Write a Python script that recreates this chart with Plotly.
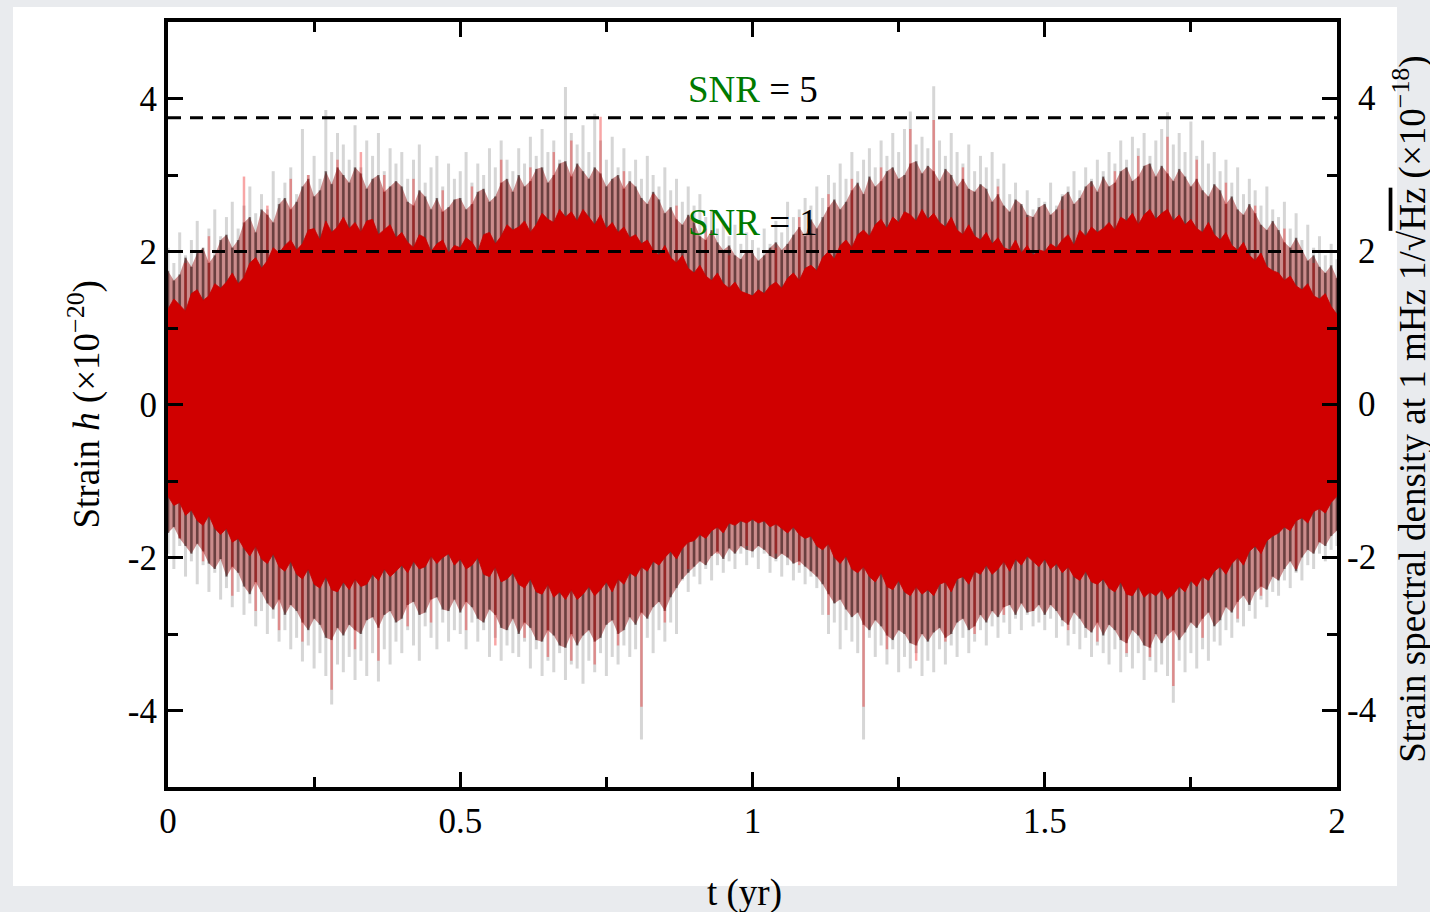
import plotly.graph_objects as go

# ---------------- data ----------------
# time grid (yr), step 0.01
t = [round(i * 0.01, 2) for i in range(201)]

# opaque red core envelope
core_hi = [1.25, 1.38, 1.30, 1.22, 1.45, 1.50, 1.36, 1.42, 1.58, 1.52,
           1.60, 1.72, 1.58, 1.66, 1.85, 1.92, 1.78, 1.88, 2.05, 1.98,
           2.08, 2.15, 2.02, 2.10, 2.28, 2.30, 2.15, 2.40, 2.25, 2.32,
           2.45, 2.30, 2.38, 2.25, 2.40, 2.42, 2.22, 2.28, 2.35, 2.18,
           2.25, 2.12, 2.05, 2.22, 2.18, 2.00, 2.10, 2.15, 1.98, 2.08,
           2.05, 2.18, 2.12, 2.00, 2.22, 2.25, 2.10, 2.20, 2.35, 2.28,
           2.32, 2.40, 2.25, 2.35, 2.50, 2.42, 2.38, 2.55, 2.45, 2.52,
           2.40, 2.55, 2.45, 2.35, 2.48, 2.30, 2.38, 2.25, 2.32, 2.18,
           2.22, 2.10, 2.15, 2.02, 1.95, 2.08, 1.92, 1.85, 1.95, 1.78,
           1.72, 1.82, 1.68, 1.62, 1.72, 1.58, 1.52, 1.60, 1.48, 1.45,
           1.42, 1.50, 1.45, 1.55, 1.60, 1.52, 1.65, 1.72, 1.62, 1.78,
           1.82, 1.75, 1.92, 2.00, 1.90, 2.08, 2.15, 2.05, 2.22, 2.28,
           2.20, 2.35, 2.42, 2.30, 2.45, 2.38, 2.52, 2.48, 2.40, 2.55,
           2.42, 2.50, 2.38, 2.32, 2.45, 2.28, 2.22, 2.35, 2.20, 2.15,
           2.25, 2.10, 2.18, 2.05, 2.02, 2.15, 1.98, 2.08, 1.95, 2.02,
           2.00, 2.10, 2.05, 2.15, 2.22, 2.08, 2.28, 2.20, 2.32, 2.25,
           2.30, 2.38, 2.28, 2.45, 2.40, 2.50, 2.35, 2.48, 2.55, 2.42,
           2.50, 2.55, 2.40, 2.48, 2.35, 2.42, 2.30, 2.25, 2.38, 2.22,
           2.15, 2.25, 2.08, 2.02, 2.12, 1.95, 1.88, 1.98, 1.80, 1.75,
           1.72, 1.62, 1.68, 1.55, 1.50, 1.58, 1.42, 1.38, 1.45, 1.28,
           1.18]
core_lo = [-1.20, -1.32, -1.28, -1.45, -1.38, -1.52, -1.58, -1.45, -1.62, -1.70,
           -1.62, -1.80, -1.75, -1.88, -1.98, -1.85, -2.02, -2.08, -1.95, -2.12,
           -2.18, -2.05, -2.22, -2.28, -2.15, -2.35, -2.40, -2.25, -2.42, -2.45,
           -2.32, -2.42, -2.28, -2.38, -2.35, -2.22, -2.30, -2.15, -2.25, -2.18,
           -2.10, -2.20, -2.05, -2.15, -2.12, -1.98, -2.08, -2.00, -1.95, -2.10,
           -2.02, -2.15, -2.10, -2.00, -2.22, -2.25, -2.12, -2.32, -2.28, -2.20,
           -2.35, -2.40, -2.28, -2.45, -2.48, -2.35, -2.52, -2.45, -2.55, -2.42,
           -2.55, -2.48, -2.38, -2.50, -2.42, -2.32, -2.45, -2.28, -2.35, -2.20,
           -2.25, -2.12, -2.18, -2.05, -2.10, -2.00, -1.92, -2.02, -1.88, -1.80,
           -1.78, -1.70, -1.75, -1.65, -1.60, -1.68, -1.55, -1.58, -1.52, -1.55,
           -1.50, -1.55, -1.52, -1.60, -1.56, -1.62, -1.68, -1.60, -1.70, -1.75,
           -1.72, -1.85, -1.90, -1.82, -2.00, -2.08, -1.98, -2.15, -2.20, -2.12,
           -2.25, -2.32, -2.20, -2.38, -2.42, -2.30, -2.45, -2.50, -2.38, -2.48,
           -2.42, -2.50, -2.35, -2.32, -2.45, -2.28, -2.25, -2.35, -2.18, -2.22,
           -2.10, -2.22, -2.15, -2.05, -2.18, -2.02, -2.10, -1.98, -2.05, -2.12,
           -2.02, -2.15, -2.08, -2.20, -2.12, -2.25, -2.30, -2.18, -2.32, -2.35,
           -2.28, -2.40, -2.45, -2.32, -2.48, -2.50, -2.38, -2.52, -2.45, -2.50,
           -2.42, -2.55, -2.48, -2.38, -2.45, -2.30, -2.38, -2.25, -2.30, -2.18,
           -2.12, -2.22, -2.08, -2.00, -2.10, -1.92, -1.85, -1.95, -1.78, -1.72,
           -1.68, -1.60, -1.65, -1.52, -1.48, -1.55, -1.40, -1.36, -1.42, -1.28,
           -1.20]

# dark (black overlap) envelope
dark_hi = [1.75, 1.62, 1.70, 1.92, 1.80, 1.98, 2.05, 1.85, 1.95, 2.15,
           2.22, 2.05, 2.15, 2.38, 2.45, 2.25, 2.55, 2.48, 2.38, 2.62,
           2.70, 2.55, 2.65, 2.85, 2.95, 2.72, 2.80, 3.05, 2.88, 3.10,
           3.00, 2.90, 3.10, 3.02, 2.82, 2.95, 3.00, 2.78, 2.85, 2.92,
           2.85, 2.65, 2.60, 2.80, 2.72, 2.55, 2.70, 2.52, 2.58, 2.68,
           2.70, 2.55, 2.62, 2.78, 2.82, 2.65, 2.72, 2.90, 2.95, 2.78,
           3.00, 2.85, 2.92, 3.08, 3.10, 2.90, 3.00, 3.15, 3.18, 2.98,
           3.15, 3.05, 2.95, 3.10, 3.02, 2.85, 2.95, 3.00, 2.82, 2.92,
           2.85, 2.70, 2.62, 2.78, 2.68, 2.50, 2.58, 2.42, 2.35, 2.48,
           2.38, 2.20, 2.15, 2.28, 2.12, 2.02, 2.08, 1.95, 1.90, 2.02,
           1.98, 1.88, 1.95, 2.05, 2.12, 2.02, 2.10, 2.22, 2.32, 2.20,
           2.42, 2.30, 2.45, 2.58, 2.68, 2.55, 2.65, 2.80, 2.90, 2.75,
           2.98, 2.85, 2.92, 3.05, 3.10, 2.95, 3.00, 3.15, 3.18, 3.02,
           3.12, 3.05, 2.92, 3.08, 3.00, 2.85, 2.95, 2.82, 2.78, 2.88,
           2.82, 2.65, 2.75, 2.60, 2.52, 2.68, 2.62, 2.48, 2.45, 2.58,
           2.62, 2.48, 2.55, 2.72, 2.78, 2.62, 2.70, 2.85, 2.92, 2.78,
           2.98, 2.85, 2.90, 3.05, 3.10, 2.92, 2.98, 3.12, 3.15, 2.98,
           3.12, 3.02, 2.92, 3.08, 2.98, 2.85, 2.95, 2.80, 2.72, 2.88,
           2.80, 2.62, 2.72, 2.55, 2.48, 2.62, 2.50, 2.35, 2.28, 2.40,
           2.28, 2.12, 2.05, 2.18, 2.02, 1.88, 1.95, 1.80, 1.72, 1.82,
           1.65]
dark_lo = [-1.68, -1.60, -1.75, -1.85, -1.95, -1.82, -1.92, -2.08, -2.15, -2.02,
           -2.25, -2.12, -2.20, -2.38, -2.48, -2.32, -2.45, -2.60, -2.68, -2.55,
           -2.75, -2.62, -2.70, -2.85, -2.95, -2.80, -2.88, -3.05, -3.08, -2.92,
           -3.02, -2.88, -2.95, -3.00, -2.82, -2.78, -2.92, -2.75, -2.70, -2.85,
           -2.80, -2.62, -2.58, -2.75, -2.72, -2.55, -2.52, -2.68, -2.70, -2.55,
           -2.72, -2.58, -2.65, -2.80, -2.85, -2.68, -2.75, -2.92, -2.95, -2.80,
           -3.00, -2.85, -2.92, -3.08, -3.10, -2.95, -3.02, -3.15, -3.18, -3.00,
           -3.15, -3.02, -2.95, -3.10, -3.05, -2.88, -2.82, -3.00, -2.95, -2.78,
           -2.88, -2.72, -2.80, -2.65, -2.58, -2.70, -2.52, -2.40, -2.28, -2.20,
           -2.12, -2.05, -2.10, -1.98, -1.92, -2.02, -1.88, -1.95, -1.85, -1.90,
           -1.92, -1.85, -1.90, -1.98, -2.02, -1.95, -2.00, -2.08, -2.05, -2.12,
           -2.18, -2.25, -2.35, -2.48, -2.60, -2.55, -2.68, -2.78, -2.72, -2.88,
           -2.95, -2.82, -2.90, -3.02, -3.08, -2.95, -3.00, -3.12, -3.15, -3.00,
           -3.10, -2.98, -2.92, -3.05, -3.00, -2.85, -2.80, -2.95, -2.90, -2.75,
           -2.85, -2.70, -2.78, -2.65, -2.62, -2.75, -2.60, -2.72, -2.70, -2.62,
           -2.75, -2.62, -2.70, -2.82, -2.88, -2.72, -2.80, -2.92, -2.98, -2.85,
           -3.02, -2.88, -2.95, -3.08, -3.12, -2.95, -3.02, -3.15, -3.18, -3.00,
           -3.12, -3.02, -2.95, -3.08, -2.98, -2.85, -2.92, -2.80, -2.72, -2.90,
           -2.82, -2.65, -2.72, -2.58, -2.50, -2.62, -2.45, -2.38, -2.42, -2.25,
           -2.30, -2.15, -2.05, -2.18, -2.00, -1.90, -1.95, -1.80, -1.85, -1.72,
           -1.65]

# tips of the faint grey spikes
tip_hi = [2.05, 1.85, 2.25, 1.95, 2.15, 2.40, 2.00, 2.30, 2.55, 2.20,
          2.45, 2.65, 2.30, 2.60, 2.85, 2.50, 2.75, 2.55, 3.05, 2.70,
          2.90, 3.10, 2.75, 3.60, 3.00, 3.25, 2.95, 3.85, 3.30, 3.55,
          3.40, 3.20, 3.65, 3.10, 3.45, 3.25, 3.55, 3.05, 3.35, 3.15,
          3.30, 2.95, 3.20, 3.40, 2.90, 3.10, 3.25, 2.85, 3.15, 2.95,
          3.05, 3.30, 2.90, 3.15, 3.00, 3.35, 3.10, 3.45, 3.20, 3.05,
          3.35, 3.15, 3.50, 3.25, 3.60, 3.30, 3.45, 3.20, 4.15, 3.55,
          3.40, 3.65, 3.30, 3.80, 3.45, 3.20, 3.50, 3.10, 3.35, 3.05,
          3.20, 2.95, 3.25, 3.00, 2.85, 3.10, 2.80, 2.95, 2.65, 2.85,
          2.60, 2.75, 2.45, 2.55, 2.30, 2.40, 2.20, 2.35, 2.10, 2.25,
          2.15, 2.05, 2.30, 2.10, 2.40, 2.25, 2.65, 2.45, 2.55, 2.70,
          2.60, 2.85, 2.70, 3.00, 2.90, 3.15, 2.95, 3.30, 3.05, 3.20,
          3.35, 3.10, 3.45, 3.25, 3.55, 3.30, 3.60, 3.83, 3.40, 3.50,
          3.35, 4.16, 3.45, 3.25, 3.55, 3.30, 3.15, 3.40, 3.05, 3.25,
          3.10, 3.30, 2.95, 3.15, 2.75, 2.90, 2.60, 2.80, 2.55, 2.70,
          2.65, 2.90, 2.60, 2.75, 2.85, 3.05, 2.80, 3.10, 2.95, 3.20,
          3.05, 3.30, 3.15, 3.45, 3.20, 3.50, 3.35, 3.55, 3.25, 3.45,
          3.60, 3.82, 3.40, 3.55, 3.30, 3.70, 3.25, 3.45, 3.15, 3.30,
          3.05, 3.20, 2.90, 3.10, 2.75, 2.95, 2.80, 2.60, 2.85, 2.55,
          2.45, 2.65, 2.30, 2.50, 2.15, 2.35, 2.05, 2.20, 1.95, 2.10,
          1.90]
tip_lo = [-1.95, -2.15, -1.85, -2.25, -2.05, -2.35, -2.10, -2.45, -2.20, -2.55,
          -2.40, -2.65, -2.45, -2.75, -2.60, -2.90, -2.70, -3.00, -2.80, -3.10,
          -2.95, -3.20, -3.05, -3.36, -3.15, -3.45, -3.25, -3.55, -3.92, -3.40,
          -3.50, -3.30, -3.60, -3.35, -3.55, -3.25, -3.62, -3.20, -3.40, -3.10,
          -3.25, -2.95, -3.15, -3.35, -2.90, -3.05, -3.20, -2.85, -3.10, -2.95,
          -3.00, -3.20, -2.85, -3.10, -2.95, -3.30, -3.05, -3.35, -3.15, -3.25,
          -3.30, -3.10, -3.45, -3.20, -3.55, -3.35, -3.50, -3.25, -3.60, -3.40,
          -3.45, -3.65, -3.35, -3.50, -3.25, -3.55, -3.30, -3.40, -3.15, -3.30,
          -3.20, -4.38, -3.05, -3.25, -2.95, -3.10, -2.85, -3.00, -2.30, -2.45,
          -2.25, -2.35, -2.15, -2.30, -2.10, -2.20, -2.05, -2.15, -1.95, -2.10,
          -2.00, -2.15, -1.95, -2.20, -2.05, -2.25, -2.10, -2.30, -2.20, -2.35,
          -2.25, -2.40, -2.75, -3.00, -2.85, -3.20, -2.95, -3.10, -3.25, -4.38,
          -3.05, -3.30, -3.15, -3.40, -3.20, -3.50, -3.30, -3.45, -3.25, -3.55,
          -3.35, -3.50, -3.20, -3.40, -3.15, -3.30, -3.05, -3.25, -3.10, -2.95,
          -3.15, -2.90, -3.05, -2.85, -3.00, -2.80, -2.95, -2.75, -2.90, -2.85,
          -2.95, -2.80, -3.05, -2.90, -3.15, -3.00, -3.20, -3.05, -3.30, -3.15,
          -3.25, -3.40, -3.20, -3.50, -3.30, -3.45, -3.25, -3.60, -3.35, -3.50,
          -3.40, -3.55, -3.90, -3.35, -3.50, -3.25, -3.45, -3.20, -3.35, -3.10,
          -3.15, -2.95, -3.05, -2.85, -2.90, -2.70, -2.80, -2.55, -2.65, -2.45,
          -2.50, -2.30, -2.40, -2.20, -2.30, -2.10, -2.15, -1.95, -2.05, -1.90,
          -1.85]

# translucent red spikes
red_up_t = [0.03, 0.07, 0.13, 0.17, 0.21, 0.24, 0.29, 0.33, 0.37, 0.42, 0.47, 0.52, 0.57, 0.62,
            0.66, 0.69, 0.74, 0.78, 0.83, 0.87, 0.92, 0.96, 1.04, 1.08, 1.13, 1.17, 1.22, 1.27,
            1.31, 1.36, 1.42, 1.47, 1.53, 1.58, 1.62, 1.66, 1.71, 1.76, 1.81, 1.86, 1.91, 1.96]
red_up_v = [1.85, 2.20, 2.98, 2.60, 2.95, 3.00, 3.20, 3.30, 3.00, 2.95, 2.80, 2.85, 3.20, 3.10,
            3.30, 3.45, 3.76, 3.05, 2.75, 2.60, 2.30, 1.95, 2.05, 2.45, 2.75, 2.95, 3.10, 3.60,
            3.72, 3.10, 2.85, 2.45, 2.55, 2.85, 3.05, 3.25, 3.50, 3.20, 2.90, 2.60, 2.30, 1.85]
red_dn_t = [0.02, 0.06, 0.11, 0.15, 0.19, 0.23, 0.28, 0.32, 0.36, 0.41, 0.45, 0.51, 0.56, 0.61,
            0.65, 0.69, 0.73, 0.77, 0.81, 0.85, 0.89, 0.94, 0.99, 1.04, 1.08, 1.13, 1.19, 1.23,
            1.28, 1.33, 1.38, 1.43, 1.48, 1.54, 1.59, 1.64, 1.68, 1.72, 1.77, 1.83, 1.87, 1.93, 1.97]
red_dn_v = [-1.75, -2.05, -2.50, -2.70, -2.95, -3.10, -3.73, -3.20, -3.35, -2.90, -2.85, -2.95, -3.15, -3.05,
            -3.30, -3.35, -3.40, -3.15, -3.95, -2.85, -2.15, -1.95, -1.85, -1.95, -2.10, -2.75, -3.95, -3.20,
            -3.35, -3.10, -3.00, -2.75, -2.70, -2.95, -3.10, -3.25, -3.30, -3.68, -3.05, -2.80, -2.50, -2.15, -1.80]

snr_levels = [3.75, 2.0]
snr_labels = ["5", "1"]
snr_label_y = [4.12, 2.38]

x_tickvals = [0, 0.5, 1, 1.5, 2]
x_ticktext = ["0", "0.5", "1", "1.5", "2"]
x_minor = [0.25, 0.75, 1.25, 1.75]
y_tickvals = [-4, -2, 0, 2, 4]
y_ticktext = ["-4", "-2", "0", "2", "4"]
y_minor = [-3, -1, 1, 3]

for arr in (core_hi, core_lo, dark_hi, dark_lo, tip_hi, tip_lo):
    assert len(arr) == len(t)

# ---------------- figure ----------------
FONT = "Liberation Serif, Times New Roman, serif"
W, H = 1430, 912
ML, MR, MT, MB = 168, 93, 22, 125
PW, PH = W - ML - MR, H - MT - MB


def spikes(ts, vs):
    xs, ys = [], []
    for tt, v in zip(ts, vs):
        xs += [tt, tt, None]
        ys += [0, v, None]
    return xs, ys


def band(ts, hi, lo):
    return ts + ts[::-1], hi + lo[::-1]


fig = go.Figure()

# faint grey spikes
for arr in (tip_hi, tip_lo):
    xs, ys = spikes(t, arr)
    fig.add_trace(go.Scatter(x=xs, y=ys, mode="lines",
                             line=dict(color="rgba(30,30,30,0.18)", width=3),
                             hoverinfo="skip", showlegend=False))

# dark overlap band: translucent fill plus dark streaks
bx, by = band(t, dark_hi, dark_lo)
fig.add_trace(go.Scatter(x=bx, y=by, fill="toself", fillcolor="rgba(140,0,0,0.45)",
                         line=dict(width=0), mode="lines",
                         hoverinfo="skip", showlegend=False))
for arr in (dark_hi, dark_lo):
    xs, ys = spikes(t, arr)
    fig.add_trace(go.Scatter(x=xs, y=ys, mode="lines",
                             line=dict(color="rgba(15,0,0,0.45)", width=2.5),
                             hoverinfo="skip", showlegend=False))

# translucent red spikes
for ts, vs in ((red_up_t, red_up_v), (red_dn_t, red_dn_v)):
    xs, ys = spikes(ts, vs)
    fig.add_trace(go.Scatter(x=xs, y=ys, mode="lines",
                             line=dict(color="rgba(235,0,0,0.35)", width=2.5),
                             hoverinfo="skip", showlegend=False))

# opaque red core
cx, cy = band(t, core_hi, core_lo)
fig.add_trace(go.Scatter(x=cx, y=cy, fill="toself", fillcolor="#d00000",
                         line=dict(width=0.8, color="#c80000"), mode="lines",
                         hoverinfo="skip", showlegend=False))

# SNR threshold lines
for lev in snr_levels:
    fig.add_trace(go.Scatter(x=[x_tickvals[0], x_tickvals[-1]], y=[lev, lev], mode="lines",
                             line=dict(color="black", width=3, dash="13px,9px"),
                             hoverinfo="skip", showlegend=False))

axis_common = dict(showline=True, linecolor="black", linewidth=4, mirror="allticks",
                   ticks="inside", ticklen=15, tickwidth=3, tickcolor="black",
                   showgrid=False, zeroline=False,
                   tickfont=dict(family=FONT, size=35, color="black"))

fig.update_layout(
    width=W, height=H,
    margin=dict(l=ML, r=MR, t=MT, b=MB),
    paper_bgcolor="#e9ebee",
    plot_bgcolor="white",
    xaxis=dict(range=[0, 2], tickmode="array", tickvals=x_tickvals, ticktext=x_ticktext,
               minor=dict(tickmode="array", tickvals=x_minor, ticks="inside", ticklen=10,
                          tickwidth=3, tickcolor="black", showgrid=False),
               **axis_common),
    yaxis=dict(range=[-5, 5], tickmode="array", tickvals=y_tickvals, ticktext=y_ticktext,
               minor=dict(tickmode="array", tickvals=y_minor, ticks="inside", ticklen=10,
                          tickwidth=3, tickcolor="black", showgrid=False),
               **axis_common),
    shapes=[dict(type="rect", xref="paper", yref="paper", layer="below",
                 x0=(13 - ML) / PW, x1=(1397 - ML) / PW,
                 y0=(H - MB - 886) / PH, y1=(H - MB - 7) / PH,
                 fillcolor="white", line=dict(width=0))],
)

ann = []
# right-side tick labels (right aligned, as in the original)
for v, txt in zip(y_tickvals, y_ticktext):
    ann.append(dict(x=(1378 - ML) / PW, xref="paper", y=v, yref="y", text=txt,
                    showarrow=False, xanchor="right", yanchor="middle",
                    font=dict(family=FONT, size=35, color="black")))
# SNR labels
for lab, yv in zip(snr_labels, snr_label_y):
    ann.append(dict(x=1.0, xref="x", y=yv, yref="y",
                    text="<span style='color:#007a00'>SNR</span> = " + lab,
                    showarrow=False, xanchor="center", yanchor="middle",
                    font=dict(family=FONT, size=37, color="black")))
# axis titles
ann.append(dict(x=(744 - ML) / PW, xref="paper", y=(H - MB - 893) / PH, yref="paper",
                text="t (yr)", showarrow=False, xanchor="center", yanchor="middle",
                font=dict(family=FONT, size=37, color="black")))
ann.append(dict(x=(84 - ML) / PW, xref="paper", y=0.5, yref="paper",
                text="Strain <i>h</i> (×10<sup>−20</sup>)", textangle=-90,
                showarrow=False, xanchor="center", yanchor="middle",
                font=dict(family=FONT, size=37, color="black")))
ann.append(dict(x=(1410 - ML) / PW, xref="paper", y=0.493, yref="paper",
                text="Strain spectral density at 1 mHz 1/√<span style='text-decoration:overline'>Hz</span> (×10<sup>−18</sup>)",
                textangle=-90, showarrow=False, xanchor="center", yanchor="middle",
                font=dict(family=FONT, size=37, color="black")))
fig.update_layout(annotations=ann)

fig.write_html(
    "out.html",
    config={"displayModeBar": False},
    post_script="document.body.style.margin='0px';document.body.style.background='#e9ebee';",
)
